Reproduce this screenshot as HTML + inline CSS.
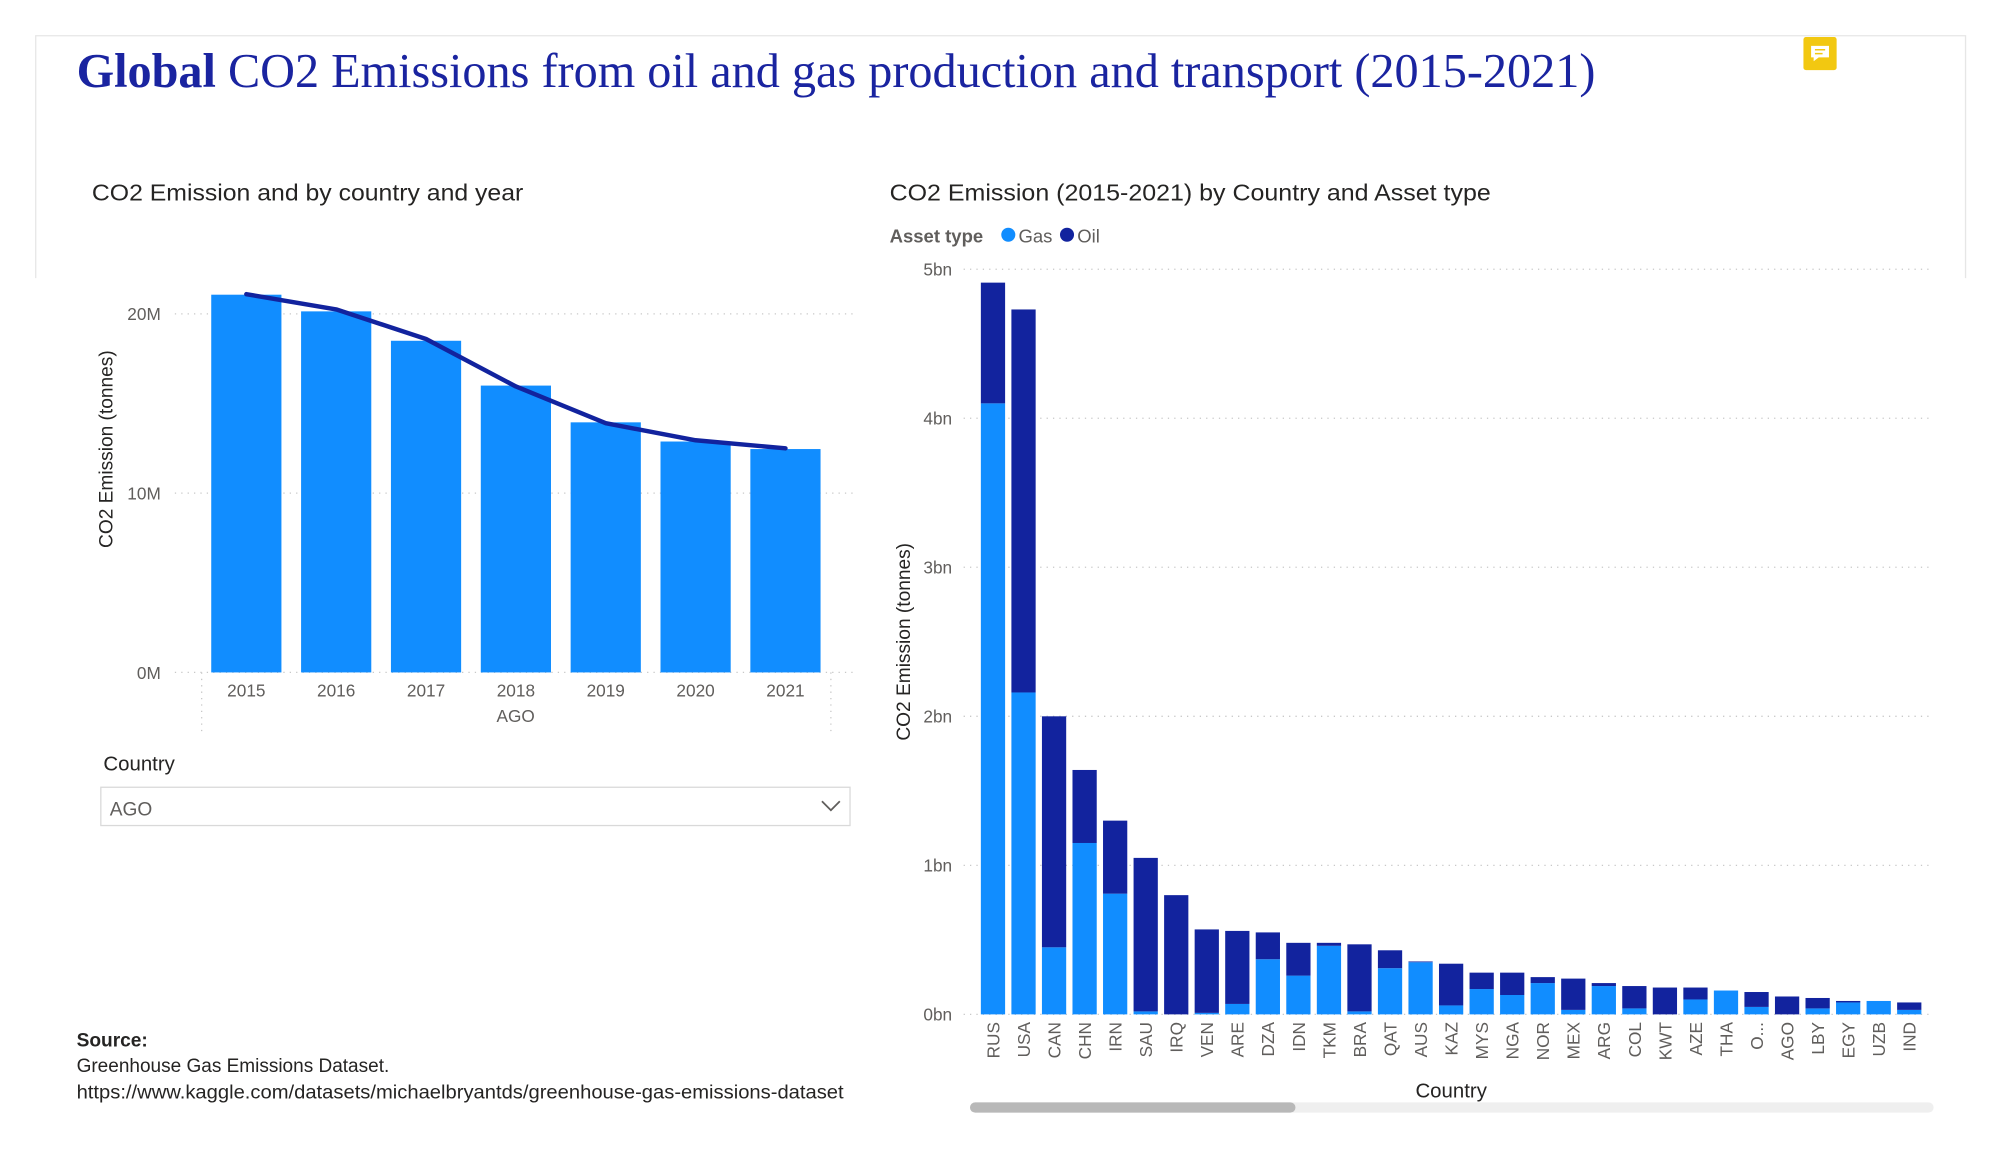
<!DOCTYPE html>
<html><head><meta charset="utf-8"><style>
html,body{margin:0;padding:0;background:#fff;}
svg{display:block;font-family:"Liberation Sans",sans-serif;}
</style></head><body>
<svg id="page" width="2000" height="1156" viewBox="0 0 1567 906" preserveAspectRatio="none" xmlns="http://www.w3.org/2000/svg">
<rect x="0" y="0" width="1567" height="906" fill="#fff"/>
<path d="M28 218 V28 H1540 V218" fill="none" stroke="#e6e6e6" stroke-width="1"/>
<text x="60" y="68" font-family="Liberation Serif, serif" font-size="38" fill="#1a24a0" textLength="1190" lengthAdjust="spacingAndGlyphs"><tspan font-weight="bold">Global</tspan> CO2 Emissions from oil and gas production and transport (2015-2021)</text>
<g><rect x="1413" y="29" width="26" height="26" rx="2" fill="#f2c811"/><path d="M1419 36 h14 v9 h-8 l-4 3 v-3 h-2 z" fill="#fff"/><path d="M1422 39 h8 M1422 42 h6" stroke="#f2c811" stroke-width="1.2"/></g>

<text x="72" y="157" font-size="18" fill="#252423" textLength="338" lengthAdjust="spacingAndGlyphs">CO2 Emission and by country and year</text>
<g id="left"></g>
<text x="81" y="604" font-size="16" fill="#252423">Country</text>
<g><rect x="79" y="617" width="587" height="30" fill="#fff" stroke="#d9d9d9"/><text x="86" y="639" font-size="15" fill="#605e5c">AGO</text><path d="M644 628 l7 7 l7 -7" fill="none" stroke="#605e5c" stroke-width="1.4"/></g>
<g font-size="15" fill="#252423">
<text x="60" y="820" font-weight="bold">Source:</text>
<text x="60" y="840" textLength="245" lengthAdjust="spacingAndGlyphs">Greenhouse Gas Emissions Dataset.</text>
<text x="60" y="861" textLength="601" lengthAdjust="spacingAndGlyphs">https://www.kaggle.com/datasets/michaelbryantds/greenhouse-gas-emissions-dataset</text>
</g>

<text x="697" y="157" font-size="18" fill="#252423" textLength="471" lengthAdjust="spacingAndGlyphs">CO2 Emission (2015-2021) by Country and Asset type</text>
<g>
<text x="697" y="190" font-size="14.5" font-weight="bold" fill="#605e5c">Asset type</text>
<circle cx="790" cy="184" r="5.5" fill="#118dff"/>
<text x="798" y="190" font-size="14.5" fill="#605e5c">Gas</text>
<circle cx="836" cy="184" r="5.5" fill="#12239e"/>
<text x="844" y="190" font-size="14.5" fill="#605e5c">Oil</text>
</g>
<g id="right"></g>
<text x="1137" y="860" font-size="16" fill="#252423" text-anchor="middle">Country</text>
<g><rect x="760" y="864" width="755" height="8" rx="4" fill="#efefef"/><rect x="760" y="864" width="255" height="8" rx="4" fill="#b8b8b8"/></g>
</svg>
<script>
const years = ['2015','2016','2017','2018','2019','2020','2021'];
const yearBars = [21.07, 20.14, 18.5, 16.0, 13.95, 12.88, 12.46];
const yearLine = [21.1, 20.25, 18.6, 15.95, 13.9, 12.95, 12.5];
const leftTicks = [0, 10, 20];
const leftTickLabels = ['0M','10M','20M'];

const countries = ['RUS','USA','CAN','CHN','IRN','SAU','IRQ','VEN','ARE','DZA','IDN','TKM','BRA','QAT','AUS','KAZ','MYS','NGA','NOR','MEX','ARG','COL','KWT','AZE','THA','O...','AGO','LBY','EGY','UZB','IND'];
const gasValues = [4.10,2.16,0.45,1.15,0.81,0.02,0.0,0.01,0.07,0.37,0.26,0.46,0.02,0.31,0.35,0.06,0.17,0.13,0.21,0.03,0.19,0.04,0.0,0.10,0.16,0.05,0.0,0.04,0.08,0.09,0.03];
const oilValues = [0.81,2.57,1.55,0.49,0.49,1.03,0.80,0.56,0.49,0.18,0.22,0.02,0.45,0.12,0.005,0.28,0.11,0.15,0.04,0.21,0.02,0.15,0.18,0.08,0.0,0.10,0.12,0.07,0.01,0.0,0.05];
const rightTicks = [0,1,2,3,4,5];
const rightTickLabels = ['0bn','1bn','2bn','3bn','4bn','5bn'];

const NS='http://www.w3.org/2000/svg';
function mk(parent, tag, attrs, text){const e=document.createElementNS(NS,tag);for(const k in attrs)e.setAttribute(k,attrs[k]);if(text!==undefined)e.textContent=text;parent.appendChild(e);return e;}

const L=document.getElementById('left');
const lY=v=>527-v*14.05;
const lX=i=>193+i*70.4;
leftTicks.forEach((t,i)=>{
  const g=mk(L,'line',{x1:137,x2:670,y1:lY(t),y2:lY(t),stroke:'#c8c8c8','stroke-dasharray':'1 4'});
  
  
  const tl=mk(L,'text',{x:126,y:lY(t)+5,'font-size':13.5,fill:'#605e5c','text-anchor':'end'},leftTickLabels[i]);
  
  
});
years.forEach((y,i)=>{
  const b=mk(L,'rect',{x:lX(i)-27.5,y:lY(yearBars[i]),width:55,height:lY(0)-lY(yearBars[i]),fill:'#118dff'});
  
  
  const t=mk(L,'text',{x:lX(i),y:546,'font-size':13.5,fill:'#605e5c','text-anchor':'middle'},y);
  
  
});
let pts=yearLine.map((v,i)=>lX(i)+','+lY(v)).join(' ');
const pl=mk(L,'polyline',{points:pts,fill:'none',stroke:'#12239e','stroke-width':3.5,'stroke-linejoin':'round','stroke-linecap':'round'});


[158,651].forEach(x=>{const v=mk(L,'line',{x1:x,x2:x,y1:527,y2:573,stroke:'#c8c8c8','stroke-dasharray':'1 4'});

});
const ag=mk(L,'text',{x:404,y:566,'font-size':13.5,fill:'#605e5c','text-anchor':'middle'},'AGO');


const lt=mk(L,'text',{x:0,y:0,'font-size':15,fill:'#252423','text-anchor':'middle',transform:'translate(88,352) rotate(-90)'},'CO2 Emission (tonnes)');



const R=document.getElementById('right');
const rY=v=>795-v*116.8;
const rX=i=>778+i*23.93;
rightTicks.forEach((t,i)=>{
  const g=mk(R,'line',{x1:755,x2:1512,y1:rY(t),y2:rY(t),stroke:'#c8c8c8','stroke-dasharray':'1 4'});
  
  
  const tl=mk(R,'text',{x:746,y:rY(t)+5,'font-size':13.5,fill:'#605e5c','text-anchor':'end'},rightTickLabels[i]);
  
  
});
countries.forEach((c,i)=>{
  const g=gasValues[i], o=oilValues[i];
  const gb=mk(R,'rect',{x:rX(i)-9.5,y:rY(g),width:19,height:rY(0)-rY(g),fill:'#118dff'});
  
  
  const ob=mk(R,'rect',{x:rX(i)-9.5,y:rY(g+o),width:19,height:rY(g)-rY(g+o),fill:'#12239e'});
  
  
  const t=mk(R,'text',{x:0,y:0,'font-size':13.5,fill:'#605e5c','text-anchor':'end',transform:'translate('+(rX(i)+5)+',801) rotate(-90)'},c);
  
  
});
const rt=mk(R,'text',{x:0,y:0,'font-size':15,fill:'#252423','text-anchor':'middle',transform:'translate(713,503) rotate(-90)'},'CO2 Emission (tonnes)');


</script>
</body></html>
